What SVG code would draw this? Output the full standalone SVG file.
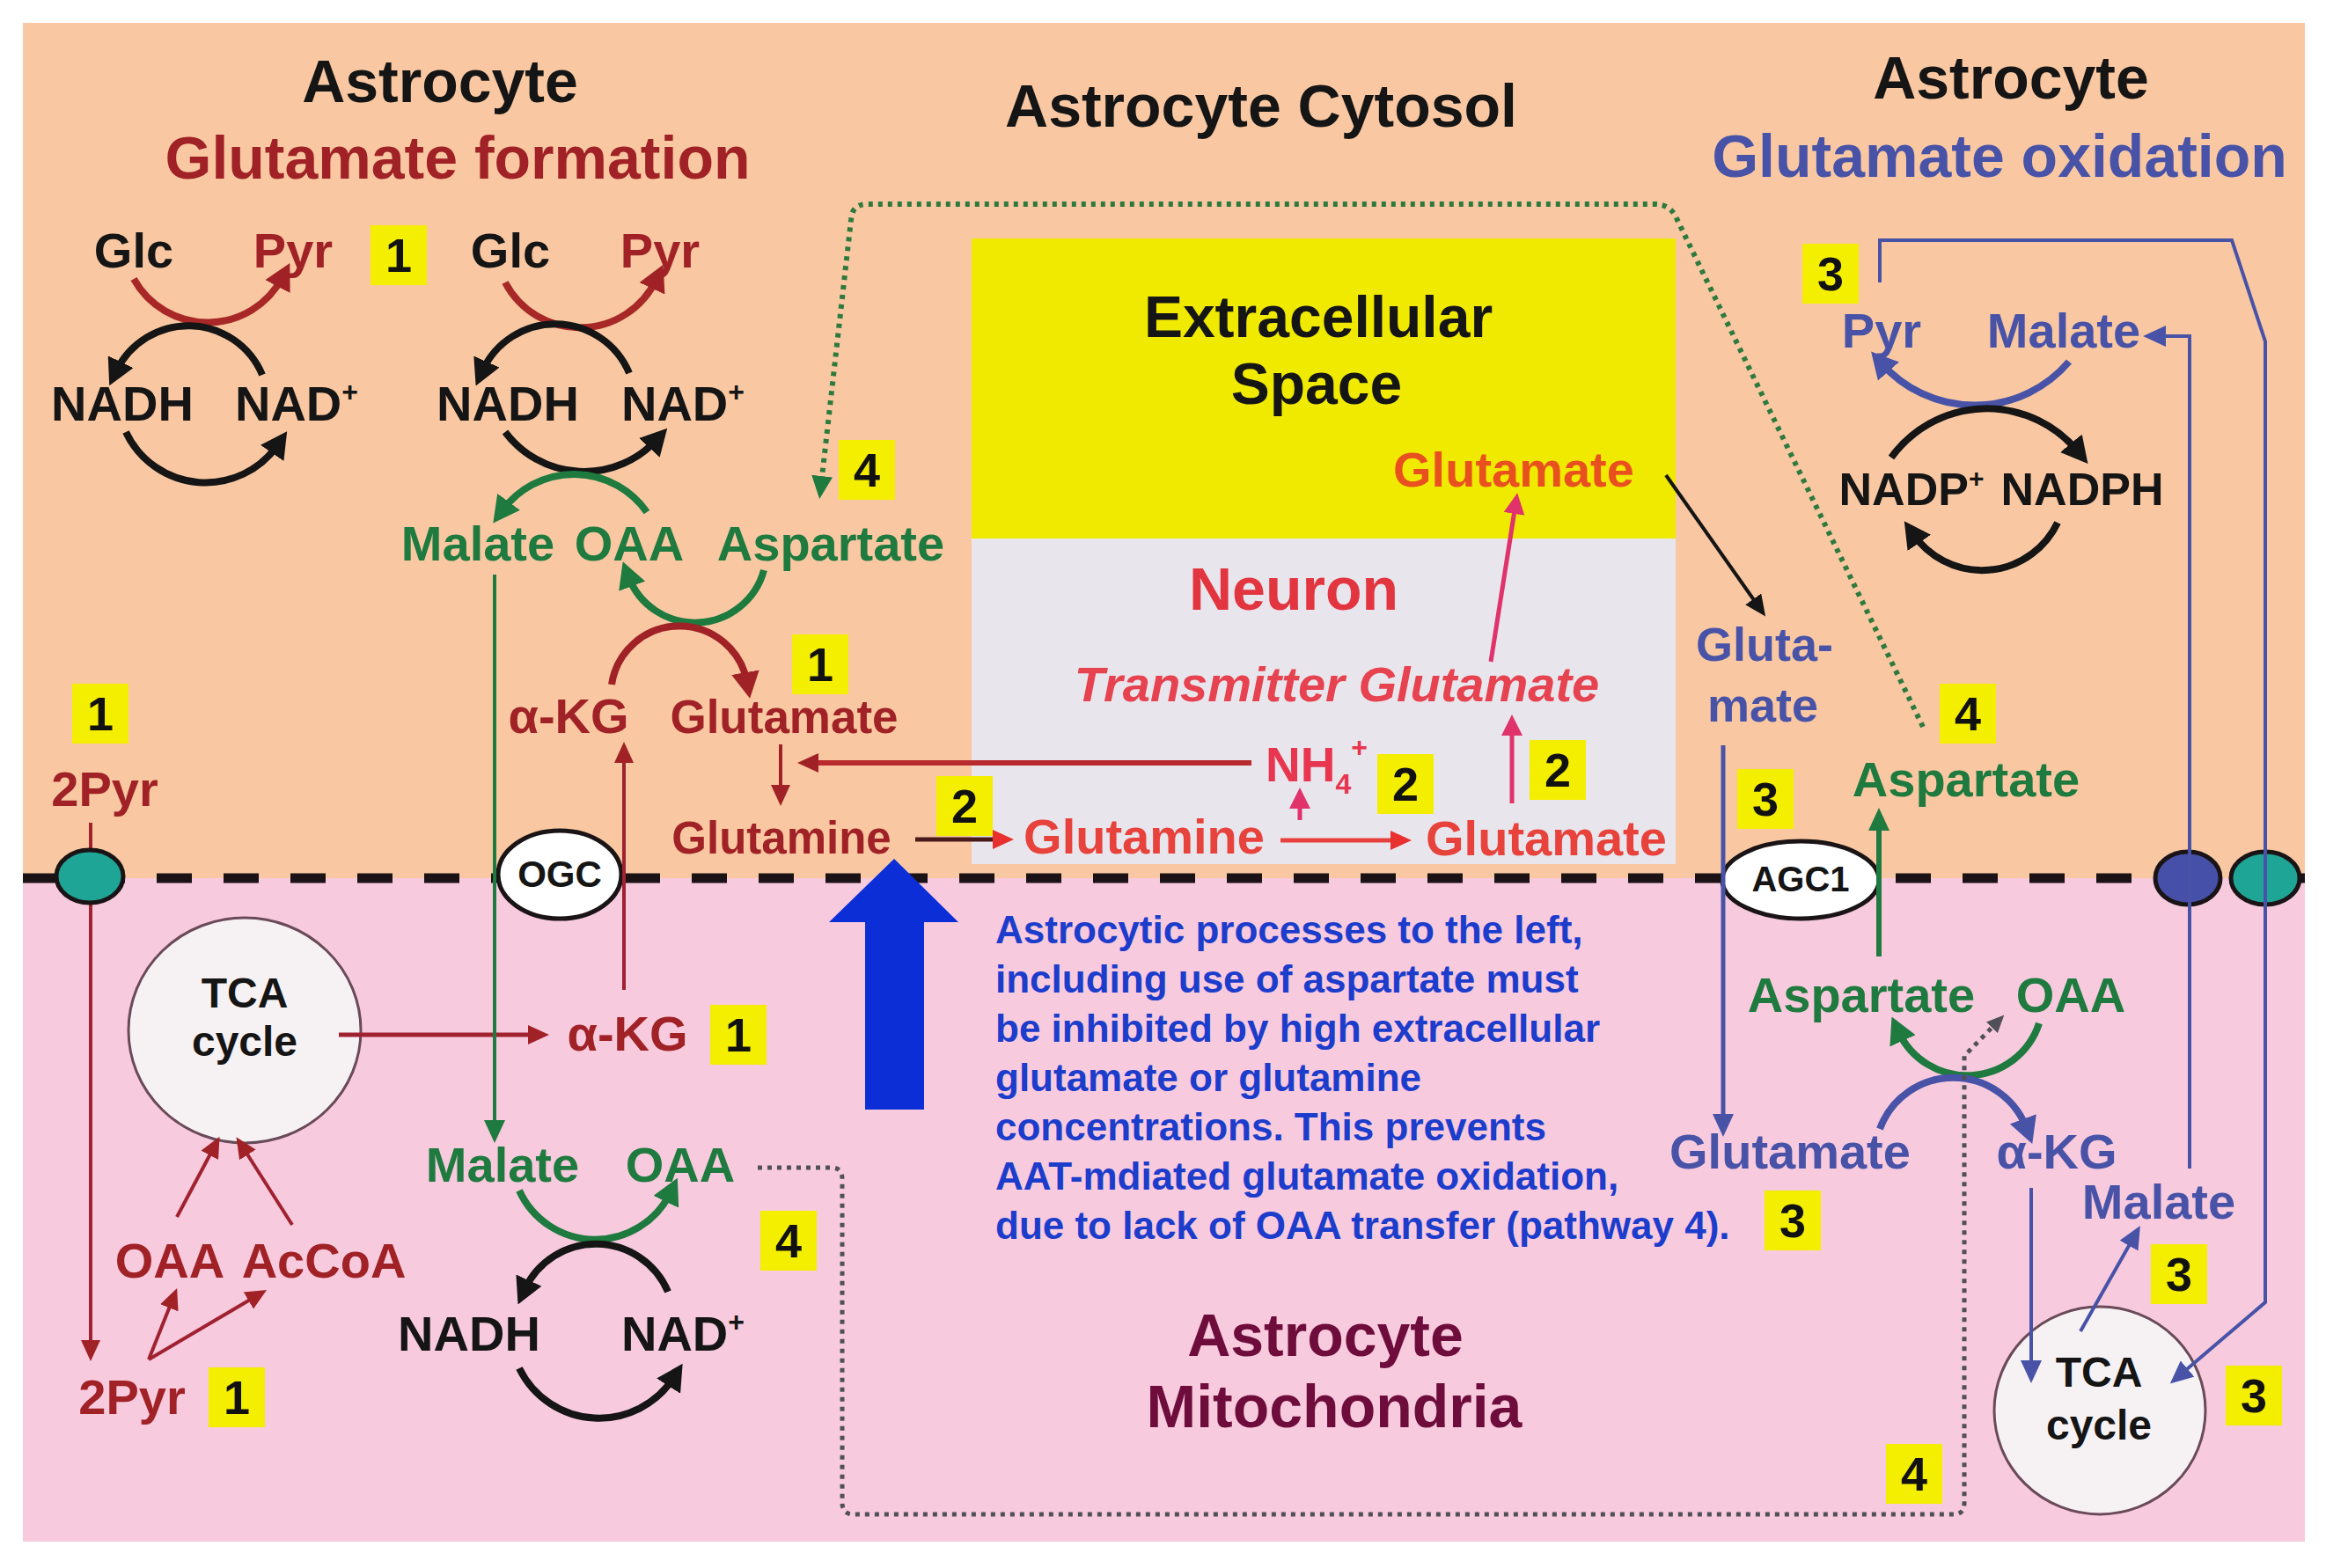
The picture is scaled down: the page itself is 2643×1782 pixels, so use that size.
<svg xmlns="http://www.w3.org/2000/svg" width="2643" height="1782" viewBox="0 0 2643 1782">
<defs>
<style>
.t{font-family:"Liberation Sans",Arial,Helvetica,sans-serif;font-weight:bold;text-anchor:middle}
.ttl{font-size:68px}
.lb{font-size:56px}
.k{fill:#151515}
.dr{fill:#A02226}
.gr{fill:#1E7A3E}
.bl{fill:#4853A8}
.nr{fill:#E63B45}
.bx{fill:#F4EE00}
.bn{font-size:54px;fill:#111}
.ln{fill:none}
.arc{fill:none;stroke-width:8}
.info{font-family:"Liberation Sans",Arial,sans-serif;font-weight:bold;font-size:44px;fill:#1C3CCC}
.mem{stroke:#1A1416;stroke-width:5}
</style>
<marker id="mDR" markerUnits="userSpaceOnUse" markerWidth="24" markerHeight="22" refX="10" refY="11" orient="auto"><path d="M0,0L24,11L0,22z" fill="#A02226"/></marker>
<marker id="mR" markerUnits="userSpaceOnUse" markerWidth="24" markerHeight="22" refX="10" refY="11" orient="auto"><path d="M0,0L24,11L0,22z" fill="#E8302E"/></marker>
<marker id="mG" markerUnits="userSpaceOnUse" markerWidth="26" markerHeight="24" refX="10" refY="12" orient="auto"><path d="M0,0L26,12L0,24z" fill="#1E7A3E"/></marker>
<marker id="mK" markerUnits="userSpaceOnUse" markerWidth="24" markerHeight="22" refX="10" refY="11" orient="auto"><path d="M0,0L24,11L0,22z" fill="#151515"/></marker>
<marker id="mB" markerUnits="userSpaceOnUse" markerWidth="26" markerHeight="24" refX="10" refY="12" orient="auto"><path d="M0,0L26,12L0,24z" fill="#4853A8"/></marker>
<marker id="mP" markerUnits="userSpaceOnUse" markerWidth="24" markerHeight="24" refX="10" refY="12" orient="auto"><path d="M0,0L24,12L0,24z" fill="#E0336B"/></marker>
<marker id="mGy" markerUnits="userSpaceOnUse" markerWidth="20" markerHeight="18" refX="8" refY="9" orient="auto"><path d="M0,0L20,9L0,18z" fill="#505058"/></marker>
<marker id="aDR" markerUnits="userSpaceOnUse" markerWidth="30" markerHeight="32" refX="12" refY="16" orient="auto"><path d="M0,0L30,16L0,32z" fill="#A02226"/></marker>
<marker id="aG" markerUnits="userSpaceOnUse" markerWidth="30" markerHeight="32" refX="12" refY="16" orient="auto"><path d="M0,0L30,16L0,32z" fill="#1E7A3E"/></marker>
<marker id="aK" markerUnits="userSpaceOnUse" markerWidth="30" markerHeight="32" refX="12" refY="16" orient="auto"><path d="M0,0L30,16L0,32z" fill="#151515"/></marker>
<marker id="aB" markerUnits="userSpaceOnUse" markerWidth="30" markerHeight="32" refX="12" refY="16" orient="auto"><path d="M0,0L30,16L0,32z" fill="#4853A8"/></marker>
</defs>

<g id="background">
<rect x="0" y="0" width="2643" height="1782" fill="#FFFFFF"/>
<rect x="26" y="26" width="2593" height="972" fill="#F9C8A2"/>
<rect x="26" y="998" width="2593" height="754" fill="#F8CADE"/>
<rect x="1104" y="271" width="800" height="341" fill="#F0E900"/>
<rect x="1104" y="612" width="800" height="370" fill="#E8E6EC"/>
<line x1="26" y1="998" x2="2619" y2="998" stroke="#1A1214" stroke-width="11" stroke-dasharray="40 36"/>
</g>

<g id="membrane-carriers">
<ellipse id="ogc" cx="636" cy="994" rx="70" ry="50" fill="#FFFFFF" class="mem"/>
<ellipse id="agc1" cx="2046" cy="1000" rx="89" ry="44" fill="#FFFFFF" class="mem"/>
<ellipse id="carrier-blue" cx="2486" cy="998" rx="37" ry="30" fill="#4750A8" class="mem"/>
<ellipse id="carrier-teal-r" cx="2574" cy="998" rx="39" ry="30" fill="#1FA595" class="mem"/>
<ellipse id="tca-left" cx="278" cy="1171" rx="132" ry="128" fill="#F6F2F4" stroke="#6A4A58" stroke-width="3"/>
<ellipse id="tca-right" cx="2386" cy="1603" rx="120" ry="118" fill="#F6F2F4" stroke="#6A4A58" stroke-width="3"/>
</g>

<g id="connectors">
<path class="arc" stroke="#A82828" d="M152 317A96 96 0 0 0 321 315" marker-end="url(#aDR)"/>
<path class="arc" stroke="#151515" d="M298 426A91 91 0 0 0 132 422" marker-end="url(#aK)"/>
<path class="arc" stroke="#151515" d="M143 491A100 100 0 0 0 316 505" marker-end="url(#aK)"/>
<path class="arc" stroke="#A82828" d="M574 321A96 96 0 0 0 746 317" marker-end="url(#aDR)"/>
<path class="arc" stroke="#151515" d="M715 424A91 91 0 0 0 548 422" marker-end="url(#aK)"/>
<path class="arc" stroke="#151515" d="M574 491A112 112 0 0 0 746 500" marker-end="url(#aK)"/>
<path class="arc" stroke="#1E7A3E" d="M735 582A101 101 0 0 0 571 580" marker-end="url(#aG)"/>
<path class="arc" stroke="#1E7A3E" d="M868 648A81 81 0 0 1 714 655" marker-end="url(#aG)"/>
<path class="arc" stroke="#A02226" d="M695 778A78 78 0 0 1 849 776" marker-end="url(#aDR)"/>
<path class="arc" stroke="#1E7A3E" d="M590 1353A95 95 0 0 0 762 1355" marker-end="url(#aG)"/>
<path class="arc" stroke="#151515" d="M759 1468A89 89 0 0 0 596 1466" marker-end="url(#aK)"/>
<path class="arc" stroke="#151515" d="M590 1555A101 101 0 0 0 766 1565" marker-end="url(#aK)"/>
<path class="arc" stroke="#1E7A3E" d="M2317 1163A86 86 0 0 1 2157 1172" marker-end="url(#aG)"/>
<path class="arc" stroke="#4853A8" d="M2136 1283A89 89 0 0 1 2303 1283" marker-end="url(#aB)"/>
<path class="arc" stroke="#4853A8" d="M2351 411A141 141 0 0 1 2138 413" marker-end="url(#aB)"/>
<path class="arc" stroke="#151515" d="M2149 520A134 134 0 0 1 2361 513" marker-end="url(#aK)"/>
<path class="arc" stroke="#151515" d="M2338 594A95 95 0 0 1 2174 607" marker-end="url(#aK)"/>

<path class="ln" stroke="#A02230" stroke-width="4" d="M103 935V1533" marker-end="url(#mDR)"/>
<path class="ln" stroke="#A02230" stroke-width="4" d="M169 1545L196 1477" marker-end="url(#mDR)"/>
<path class="ln" stroke="#A02230" stroke-width="4" d="M169 1545L291 1473" marker-end="url(#mDR)"/>
<path class="ln" stroke="#A02230" stroke-width="4" d="M201 1383L243 1304" marker-end="url(#mDR)"/>
<path class="ln" stroke="#A02230" stroke-width="4" d="M332 1392L276 1304" marker-end="url(#mDR)"/>
<path class="ln" stroke="#A02230" stroke-width="5" d="M385 1176H610" marker-end="url(#mDR)"/>
<path class="ln" stroke="#A02230" stroke-width="4" d="M709 1125V857" marker-end="url(#mDR)"/>
<path class="ln" stroke="#1E7A3E" stroke-width="4" d="M562 653V1283" marker-end="url(#mG)"/>
<path class="ln" stroke="#A02226" stroke-width="4" d="M887 846V902" marker-end="url(#mDR)"/>
<path class="ln" stroke="#B82A2E" stroke-width="6" d="M1422 867H920" marker-end="url(#mDR)"/>
<path class="ln" stroke="#4A1A1A" stroke-width="5" d="M1040 954H1138" marker-end="url(#mR)"/>
<path class="ln" stroke="#E8403C" stroke-width="5" d="M1455 955H1590" marker-end="url(#mR)"/>
<path class="ln" stroke="#E0336B" stroke-width="5" d="M1477 932V909" marker-end="url(#mP)"/>
<path class="ln" stroke="#E0336B" stroke-width="5" d="M1718 913V826" marker-end="url(#mP)"/>
<path class="ln" stroke="#E0336B" stroke-width="5" d="M1694 752L1722 574" marker-end="url(#mP)"/>
<path class="ln" stroke="#151515" stroke-width="4" d="M1893 540L1998 689" marker-end="url(#mK)"/>
<path class="ln" stroke="#4853A8" stroke-width="5" d="M1958 847V1276" marker-end="url(#mB)"/>
<path class="ln" stroke="#1E7A3E" stroke-width="6" d="M2135 1087V934" marker-end="url(#mG)"/>
<path class="ln" stroke="#4853A8" stroke-width="4" d="M2308 1350V1556" marker-end="url(#mB)"/>
<path class="ln" stroke="#4853A8" stroke-width="4" d="M2364 1513L2424 1407" marker-end="url(#mB)"/>
<path class="ln" stroke="#4853A8" stroke-width="4" d="M2488 1328V382H2451" marker-end="url(#mB)"/>
<path class="ln" stroke="#4853A8" stroke-width="4" d="M2136 321V273H2536L2574 388V1480L2478 1562" marker-end="url(#mB)"/>
<path class="ln" stroke="#2E7A3E" stroke-width="6" stroke-dasharray="5 6" d="M2185 826L1905 248Q1898 232 1880 232H985Q968 232 967 250L933 551" marker-end="url(#mG)"/>
<path class="ln" stroke="#505058" stroke-width="5" stroke-dasharray="5 6" d="M861 1327H945Q957 1327 957 1340V1708Q957 1721 970 1721H2220Q2232 1721 2232 1708V1200L2269 1162" marker-end="url(#mGy)"/>
<polygon id="inhibition-arrow" points="983,1261 1050,1261 1050,1048 1089,1048 1016,976 942,1048 983,1048" fill="#0B2ED6"/>
</g>

<ellipse id="carrier-teal-l" cx="102" cy="996" rx="38" ry="30" fill="#1FA595" class="mem"/>

<g id="titles">
<text class="t ttl k" x="500" y="116">Astrocyte</text>
<text class="t ttl dr" x="520" y="203">Glutamate formation</text>
<text class="t ttl k" x="1433" y="144">Astrocyte Cytosol</text>
<text class="t ttl k" x="2285" y="112">Astrocyte</text>
<text class="t ttl bl" x="2272" y="201">Glutamate oxidation</text>
<text class="t k" font-size="66" x="1498" y="383">Extracellular</text>
<text class="t k" font-size="66" x="1496" y="459">Space</text>
<text class="t ttl" x="1470" y="693" fill="#E23540">Neuron</text>
<text class="t ttl" x="1506" y="1541" fill="#6E0C3C">Astrocyte</text>
<text class="t ttl" x="1516" y="1622" fill="#6E0C3C">Mitochondria</text>
</g>

<g id="glycolysis-1">
<text class="t lb k" x="152" y="304">Glc</text>
<text class="t lb dr" x="333" y="304">Pyr</text>
<text class="t lb k" x="139" y="478">NADH</text>
<text class="t lb k" x="337" y="478">NAD<tspan font-size="32" dy="-22">+</tspan></text>
</g>
<g id="glycolysis-2">
<text class="t lb k" x="580" y="304">Glc</text>
<text class="t lb dr" x="750" y="304">Pyr</text>
<text class="t lb k" x="577" y="478">NADH</text>
<text class="t lb k" x="776" y="478">NAD<tspan font-size="32" dy="-22">+</tspan></text>
</g>
<g id="cyto-malate-oaa-asp">
<text class="t lb gr" x="543" y="637">Malate</text>
<text class="t lb gr" x="715" y="637">OAA</text>
<text class="t lb gr" x="944" y="637">Aspartate</text>
</g>
<g id="cyto-akg-glu">
<text class="t lb dr" x="646" y="833">α-KG</text>
<text class="t dr" font-size="53" x="891" y="833">Glutamate</text>
<text class="t dr" font-size="51" x="888" y="970">Glutamine</text>
</g>
<g id="pyr-left">
<text class="t lb dr" x="119" y="916">2Pyr</text>
<text class="t lb dr" x="150" y="1607">2Pyr</text>
<text class="t lb dr" x="193" y="1452">OAA</text>
<text class="t lb dr" x="368" y="1452">AcCoA</text>
</g>
<g id="tca-left-label">
<text class="t k" font-size="48" x="278" y="1145">TCA</text>
<text class="t k" font-size="48" x="278" y="1200">cycle</text>
</g>
<g id="mito-left">
<text class="t lb dr" x="713" y="1194">α-KG</text>
<text class="t lb gr" x="571" y="1343">Malate</text>
<text class="t lb gr" x="773" y="1343">OAA</text>
<text class="t lb k" x="533" y="1535">NADH</text>
<text class="t lb k" x="776" y="1535">NAD<tspan font-size="32" dy="-22">+</tspan></text>
</g>
<g id="neuron-labels">
<text class="t" font-size="56" x="1720" y="553" fill="#E9501F">Glutamate</text>
<text class="t" font-size="56" x="1519" y="797" fill="#E64250" font-style="italic">Transmitter Glutamate</text>
<text class="t" font-size="55" x="1438" y="888" fill="#E83550" style="text-anchor:start">NH<tspan font-size="32" dy="14">4</tspan><tspan font-size="32" dy="-42">+</tspan></text>
<text class="t" font-size="56" x="1300" y="970" fill="#E8423C">Glutamine</text>
<text class="t" font-size="56" x="1757" y="972" fill="#E8423C">Glutamate</text>
</g>
<g id="oxidation-labels">
<text class="t bl" font-size="54" x="2005" y="751">Gluta-</text>
<text class="t bl" font-size="54" x="2003" y="820">mate</text>
<text class="t lb gr" x="2234" y="905">Aspartate</text>
<text class="t lb gr" x="2115" y="1150">Aspartate</text>
<text class="t lb gr" x="2353" y="1150">OAA</text>
<text class="t lb bl" x="2034" y="1328">Glutamate</text>
<text class="t lb bl" x="2337" y="1328">α-KG</text>
<text class="t lb bl" x="2453" y="1385">Malate</text>
<text class="t k" font-size="48" x="2385" y="1576">TCA</text>
<text class="t k" font-size="48" x="2385" y="1636">cycle</text>
</g>
<g id="nadp-cycle">
<text class="t lb bl" x="2138" y="395">Pyr</text>
<text class="t lb bl" x="2345" y="395">Malate</text>
<text class="t k" font-size="52" x="2172" y="574">NADP<tspan font-size="30" dy="-20">+</tspan></text>
<text class="t k" font-size="52" x="2366" y="574">NADPH</text>
</g>
<g id="carrier-labels">
<text class="t k" font-size="42" x="636" y="1008">OGC</text>
<text class="t k" font-size="40" x="2046" y="1013">AGC1</text>
</g>
<g id="note">
<text class="info" x="1131" y="1072">Astrocytic processes to the left,</text>
<text class="info" x="1131" y="1128">including use of aspartate must</text>
<text class="info" x="1131" y="1184">be inhibited by high extracellular</text>
<text class="info" x="1131" y="1240">glutamate or glutamine</text>
<text class="info" x="1131" y="1296">concentrations. This prevents</text>
<text class="info" x="1131" y="1352">AAT-mdiated glutamate oxidation,</text>
<text class="info" x="1131" y="1408">due to lack of OAA transfer (pathway 4).</text>
</g>
<g id="badges">
<g id="b1"><rect class="bx" x="421" y="256" width="64" height="68"/><text class="t bn" x="453" y="309">1</text></g>
<g id="b2"><rect class="bx" x="953" y="500" width="64" height="68"/><text class="t bn" x="985" y="553">4</text></g>
<g id="b3"><rect class="bx" x="900" y="721" width="64" height="68"/><text class="t bn" x="932" y="774">1</text></g>
<g id="b4"><rect class="bx" x="82" y="777" width="64" height="68"/><text class="t bn" x="114" y="830">1</text></g>
<g id="b5"><rect class="bx" x="1064" y="882" width="64" height="68"/><text class="t bn" x="1096" y="935">2</text></g>
<g id="b6"><rect class="bx" x="1565" y="857" width="64" height="68"/><text class="t bn" x="1597" y="910">2</text></g>
<g id="b7"><rect class="bx" x="1738" y="841" width="64" height="68"/><text class="t bn" x="1770" y="894">2</text></g>
<g id="b8"><rect class="bx" x="1974" y="874" width="64" height="68"/><text class="t bn" x="2006" y="927">3</text></g>
<g id="b9"><rect class="bx" x="2204" y="777" width="64" height="68"/><text class="t bn" x="2236" y="830">4</text></g>
<g id="b10"><rect class="bx" x="2048" y="277" width="64" height="68"/><text class="t bn" x="2080" y="330">3</text></g>
<g id="b11"><rect class="bx" x="807" y="1142" width="64" height="68"/><text class="t bn" x="839" y="1195">1</text></g>
<g id="b12"><rect class="bx" x="864" y="1376" width="64" height="68"/><text class="t bn" x="896" y="1429">4</text></g>
<g id="b13"><rect class="bx" x="237" y="1554" width="64" height="68"/><text class="t bn" x="269" y="1607">1</text></g>
<g id="b14"><rect class="bx" x="2005" y="1353" width="64" height="68"/><text class="t bn" x="2037" y="1406">3</text></g>
<g id="b15"><rect class="bx" x="2444" y="1414" width="64" height="68"/><text class="t bn" x="2476" y="1467">3</text></g>
<g id="b16"><rect class="bx" x="2529" y="1552" width="64" height="68"/><text class="t bn" x="2561" y="1605">3</text></g>
<g id="b17"><rect class="bx" x="2143" y="1641" width="64" height="68"/><text class="t bn" x="2175" y="1694">4</text></g>
</g>
</svg>
